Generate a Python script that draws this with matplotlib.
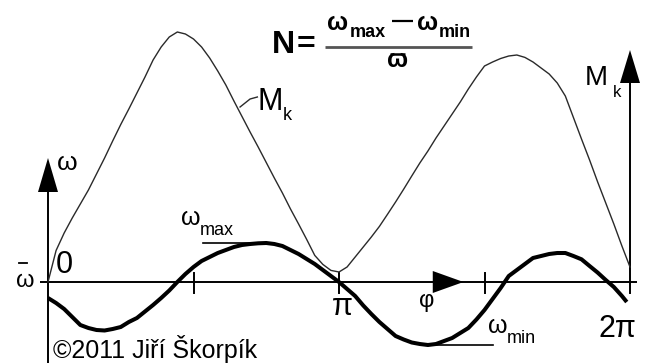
import matplotlib
matplotlib.use("Agg")
import matplotlib.pyplot as plt

plt.rcParams['font.family'] = ['Liberation Sans', 'DejaVu Sans']

# crank angle [deg]
phi_omega = [0, 5, 10, 15, 20, 25, 30, 35, 40, 45, 50, 55, 60, 65, 70, 75, 80, 85,
             90, 95, 100, 105, 110, 115, 120, 125, 130, 135, 140, 145, 150, 155,
             160, 165, 170, 175, 180, 185, 190, 195, 200, 205, 210, 215, 220, 225,
             230, 235, 240, 245, 250, 255, 260, 265, 270, 275, 280, 285, 290, 295,
             300, 305, 310, 315, 320, 325, 330, 335, 340, 345, 350, 355, 358]
# angular velocity deviation from the mean value (omega - omega_mean)
omega_dev = [-16, -21, -27, -35, -43, -46, -48, -48.5, -47, -45, -40, -36, -29.5,
             -23, -16, -8.5, 0, 8, 15, 21, 25, 29, 32, 35, 37, 38, 38.7, 39, 38,
             36, 32, 28, 23, 18, 12, 6, 0, -7, -14, -23.5, -32, -40, -47, -54,
             -57.5, -60.5, -62, -63, -62, -59, -56, -51, -46, -37.5, -28, -17, -6,
             6, 12, 18, 24, 26, 28, 29, 29, 26, 22.7, 16, 9.4, 2, -5, -14, -20]

phi_torque = [0, 5, 10, 15, 20, 25, 30, 35, 40, 45, 50, 55, 60, 65, 70, 75, 80, 85,
              90, 95, 100, 105, 110, 115, 120, 125, 130, 135, 140, 145, 150, 155,
              160, 165, 170, 175, 180, 185, 190, 195, 200, 205, 210, 215, 220, 225,
              230, 235, 240, 245, 250, 255, 260, 265, 270, 275, 280, 285, 290, 295,
              300, 305, 310, 315, 320, 325, 330, 335, 340, 345, 350, 355, 360]
# torque on the crankshaft M_k
torque = [0, 31.5, 49, 64, 78, 92, 108, 124, 141, 157.5, 173, 189, 205, 222, 235,
          245, 250, 248, 243, 235, 224, 211, 197, 181, 165.5, 150, 135, 119.5, 104,
          89, 73, 58, 42.6, 26.6, 17.6, 11.6, 10, 15, 25, 35, 45, 55.6, 67.7, 80,
          92.8, 106, 119, 131, 144, 156, 168, 180, 193, 205, 216, 220, 223.5, 226,
          227, 224.6, 220, 214, 208, 199, 186, 164.5, 143, 122, 100, 79, 58, 36, 15]

tick_angles = [90, 180, 270]
full_turn = 360

W, H = 645, 363
px_per_deg = 582 / 360.0

fig = plt.figure(figsize=(W / 100, H / 100), dpi=100)
ax = fig.add_axes([0, 0, 1, 1])
ax.set_xlim(-48 / px_per_deg, (W - 48) / px_per_deg)
ax.set_ylim(-81, 282)
ax.axis('off')

k = 'black'
axis_lw = 1.4
dx = 1 / px_per_deg  # one pixel in degrees

# horizontal (phi) axis
ax.plot([-8 * dx, full_turn + 7 * dx], [0, 0], color=k, lw=axis_lw, solid_capstyle='butt')
ax.fill([238, 238, 257], [11, -11, 0], color=k, lw=0)
for t in tick_angles:
    ax.plot([t, t], [-11, 9], color=k, lw=axis_lw)

# left axis (omega)
ax.plot([0, 0], [-81, 92], color=k, lw=axis_lw)
ax.fill([-10 * dx, 10 * dx, 0], [90, 90, 124], color=k, lw=0)

# right axis (M_k)
ax.plot([full_turn, full_turn], [-11, 201], color=k, lw=axis_lw)
ax.fill([full_turn - 10 * dx, full_turn + 10 * dx, full_turn], [199, 199, 232], color=k, lw=0)

# curves
ax.plot(phi_torque, torque, color='#2a2a2a', lw=1.0, solid_joinstyle='round')
ax.plot(phi_omega, omega_dev, color=k, lw=2.9, solid_joinstyle='round', solid_capstyle='butt')

# pointer lines to labels
w_max = max(omega_dev)
w_min = min(omega_dev)
ax.plot([96, 128], [w_max, w_max], color=k, lw=1.2)
ax.plot([236, 275], [w_min, w_min], color=k, lw=1.2)
ax.plot([118.8, 125, 129.5], [175, 183, 185], color='#2a2a2a', lw=1.0)

fs = 18
# axis labels
ax.text(5.5, 112, 'ω', fontsize=19, ha='left', va='baseline')
ax.text(5, 9, '0', fontsize=22, ha='left', va='baseline')
ax.text(-14, -5, 'ω', fontsize=17, ha='center', va='baseline')
ax.plot([-18, -13], [19, 19], color=k, lw=1.3)
ax.text(182, -33, 'π', fontsize=22, ha='center', va='baseline')
ax.text(340.5, -55, '2π', fontsize=22, ha='left', va='baseline')
ax.text(234.5, -25, 'φ', fontsize=17, ha='center', va='baseline')

# omega_max / omega_min labels
ax.text(82.5, 57, 'ω', fontsize=fs, ha='left', va='baseline')
ax.text(94, 47, 'max', fontsize=13, ha='left', va='baseline')
ax.text(272, -51, 'ω', fontsize=fs, ha='left', va='baseline')
ax.text(284, -61, 'min', fontsize=13, ha='left', va='baseline')

# M_k labels
ax.text(129.5, 172, 'M', fontsize=22, ha='left', va='baseline')
ax.text(145, 162, 'k', fontsize=13, ha='left', va='baseline')
ax.text(332, 197, 'M', fontsize=20, ha='left', va='baseline')
ax.text(349.5, 185, 'k', fontsize=12, ha='left', va='baseline')

# degree of cyclic irregularity
ax.text(138.5, 229, 'N', fontsize=23, fontweight='bold', ha='left', va='baseline')
ax.text(153.5, 229, '=', fontsize=23, fontweight='bold', ha='left', va='baseline')
ax.plot([171.4, 262.3], [235, 235], color='#555555', lw=2.0, solid_capstyle='butt')
ax.text(172.3, 252, 'ω', fontsize=18, fontweight='bold', ha='left', va='baseline')
ax.text(186.5, 245, 'max', fontsize=13, fontweight='bold', ha='left', va='baseline')
ax.plot([212.8, 225.8], [261, 261], color=k, lw=1.6, solid_capstyle='butt')
ax.text(228, 252, 'ω', fontsize=18, fontweight='bold', ha='left', va='baseline')
ax.text(242, 245, 'min', fontsize=13, fontweight='bold', ha='left', va='baseline')
ax.text(216.5, 215, 'ω', fontsize=18, fontweight='bold', ha='center', va='baseline')
ax.plot([211.5, 220.8], [228, 228], color=k, lw=1.8, solid_capstyle='butt')

ax.text(3, -76, '©2011 Jiří Škorpík', fontsize=18, ha='left', va='baseline')

fig.savefig('out.png', dpi=100)
